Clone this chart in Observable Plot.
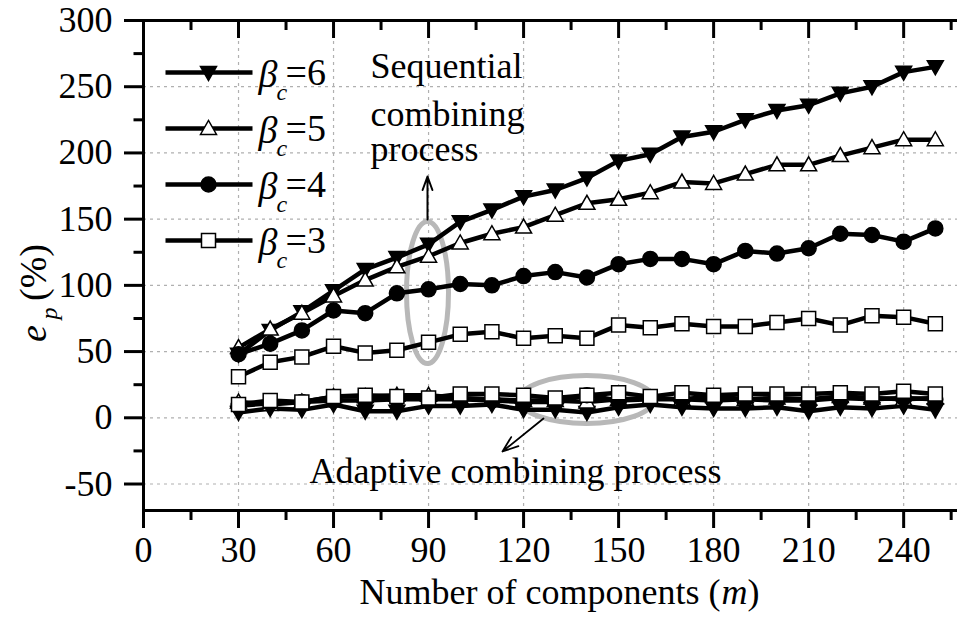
<!DOCTYPE html>
<html><head><meta charset="utf-8">
<script src="https://cdn.jsdelivr.net/npm/d3@7"></script>
<script src="https://cdn.jsdelivr.net/npm/@observablehq/plot@0.6"></script>
<style>html,body{margin:0;padding:0;background:#fff;overflow:hidden}</style>
</head><body><div id="chart"></div>
<script>
// ---- data ----
const mValues = [30,40,50,60,70,80,90,100,110,120,130,140,150,160,170,180,190,200,210,220,230,240,250];
const seqBeta6 = [48,66,80,96,112,121,131,148,157,167,172,181,194,199,212,216,225,232,236,245,250,261,265];
const seqBeta5 = [53,67,79,92,104,114,122,132,139,144,153,162,165,170,178,177,184,191,191,198,204,210,210];
const seqBeta4 = [48,56,66,81,79,94,97,101,100,107,110,106,116,120,120,116,126,124,128,139,138,133,143];
const seqBeta3 = [31,42,46,54,49,51,57,63,65,60,62,60,70,68,71,69,69,72,75,70,77,76,71];
const adaBeta6 = [4,7,6,10,5,5,9,9,10,6,6,4,8,10,8,7,7,8,5,8,7,9,6];
const adaBeta5 = [12,10,12,16,16,17,17,15,14,13,13,12,14,15,14,16,14,15,14,16,15,14,15];
const adaBeta4 = [9,11,12,13,13,14,14,14,13,12,12,17,13,14,14,13,14,13,13,15,14,15,14];
const adaBeta3 = [10,13,12,16,17,16,15,18,18,17,15,17,19,16,19,17,18,18,18,19,18,20,18];
const betaLevels = ["6","5","4","3"];
const xTickValues = [0,30,60,90,120,150,180,210,240];
const xMinorTicks = [15,45,75,105,135,165,195,225,255];
const yTickValues = [-50,0,50,100,150,200,250,300];
const yMinorTicks = [-25,25,75,125,175,225,275];
const annotationLines = ["Sequential","combining","process"];
const adaptiveLabel = "Adaptive combining process";
const xTitleMain = "Number of components (";
const xTitleVar = "m";
const yTitleVar = "e";
const yTitleSub = "p";
const yTitleUnit = "(%)";

// ---- layout ----
const W = 957, H = 617, ML = 143, MR = 0, MT = 20, MB = 107;
const XMAX = 257, YMIN = -70, YMAX = 300;
const X = px => (px - ML) / (W - ML - MR) * XMAX;
const Y = py => YMAX - (py - MT) / (H - MT - MB) * (YMAX - YMIN);
const FONT = "'Liberation Serif', 'Times New Roman', serif";
const annotationCenters = [66, 114, 149];

const seqSeries = {"6": seqBeta6, "5": seqBeta5, "4": seqBeta4, "3": seqBeta3};
const adaSeries = {"6": adaBeta6, "5": adaBeta5, "4": adaBeta4, "3": adaBeta3};
const rows = [];
for (const b of betaLevels) {
  seqSeries[b].forEach((v, i) => rows.push({m: mValues[i], v, beta: b, key: "seq" + b}));
  adaSeries[b].forEach((v, i) => rows.push({m: mValues[i], v, beta: b, key: "ada" + b}));
}

// ---- symbols ----
const invTri = {draw(c){ c.moveTo(-8,-6); c.lineTo(8,-6); c.lineTo(0,8); c.closePath(); }};
const upTri  = {draw(c){ c.moveTo(-8,6); c.lineTo(8,6); c.lineTo(0,-8); c.closePath(); }};
const square = {draw(c){ c.rect(-7,-7,14,14); }};
const circle = {draw(c){ c.moveTo(7.5,0); c.arc(0,0,7.5,0,2*Math.PI); }};
const ellipse = (rx, ry) => { const k = 0.5523; return {draw(c){
  c.moveTo(rx,0);
  c.bezierCurveTo(rx, ry*k, rx*k, ry, 0, ry);
  c.bezierCurveTo(-rx*k, ry, -rx, ry*k, -rx, 0);
  c.bezierCurveTo(-rx, -ry*k, -rx*k, -ry, 0, -ry);
  c.bezierCurveTo(rx*k, -ry, rx, -ry*k, rx, 0);
  c.closePath(); }}; };
const symStyle = {
  "6": {symbol: invTri, fill: "black"},
  "5": {symbol: upTri, fill: "white"},
  "4": {symbol: circle, fill: "black"},
  "3": {symbol: square, fill: "white"}
};

const T = {fontFamily: FONT, fill: "black"};
const marks = [];
// grid
marks.push(Plot.gridX({ticks: xTickValues.filter(v => v > 0), stroke: "#b0b0b0", strokeOpacity: 1, strokeWidth: 1.2, strokeDasharray: "3,4"}));
marks.push(Plot.gridY({ticks: yTickValues.filter(v => v < 300), stroke: "#b0b0b0", strokeOpacity: 1, strokeWidth: 1.2, strokeDasharray: "3,4"}));
// annotation ellipses
marks.push(Plot.dot([0], {x: X(427), y: Y(292), symbol: ellipse(21, 71), fill: "none", stroke: "#b8b8b8", strokeWidth: 5}));
marks.push(Plot.dot([0], {x: X(586), y: Y(399), symbol: ellipse(67, 24), fill: "none", stroke: "#b8b8b8", strokeWidth: 5}));
// series lines
marks.push(Plot.line(rows, {x: "m", y: "v", z: "key", stroke: "black", strokeWidth: 4.5}));
// markers
for (const b of betaLevels) {
  marks.push(Plot.dot(rows.filter(d => d.beta === b), {x: "m", y: "v", symbol: symStyle[b].symbol, fill: symStyle[b].fill, stroke: "black", strokeWidth: 1.5}));
}
// frame lines
marks.push(Plot.ruleX([0], {stroke: "black", strokeWidth: 3}));
marks.push(Plot.ruleY([YMIN], {stroke: "black", strokeWidth: 3}));
marks.push(Plot.ruleY([YMAX], {stroke: "black", strokeWidth: 3}));
// axes
marks.push(Plot.axisX({ticks: xTickValues, anchor: "bottom", tickSize: 18, tickPadding: 8, strokeWidth: 3, fontSize: 36, label: null, ...T}));
marks.push(Plot.axisX({ticks: xMinorTicks, anchor: "bottom", tickSize: 10, strokeWidth: 3, tickFormat: () => "", label: null}));
marks.push(Plot.axisX({ticks: xTickValues, anchor: "top", tickSize: -17, strokeWidth: 3, tickFormat: () => "", label: null}));
marks.push(Plot.axisX({ticks: xMinorTicks, anchor: "top", tickSize: -9, strokeWidth: 3, tickFormat: () => "", label: null}));
marks.push(Plot.axisY({ticks: yTickValues, anchor: "left", tickSize: 19, tickPadding: 12, strokeWidth: 3, fontSize: 36, label: null, tickFormat: d => String(d), ...T}));
marks.push(Plot.axisY({ticks: yMinorTicks, anchor: "left", tickSize: 9.5, strokeWidth: 3, tickFormat: () => "", label: null}));
// axis titles
marks.push(Plot.text([xTitleMain], {x: X(720), y: Y(592), text: d => d, textAnchor: "end", fontSize: 36, ...T}));
marks.push(Plot.text([xTitleVar], {x: X(721), y: Y(592), text: d => d, textAnchor: "start", fontSize: 36, fontStyle: "italic", ...T}));
marks.push(Plot.text([")"], {x: X(747), y: Y(592), text: d => d, textAnchor: "start", fontSize: 36, ...T}));
marks.push(Plot.text([yTitleVar], {x: X(33), y: Y(333), text: d => d, rotate: -90, fontSize: 38, fontStyle: "italic", ...T}));
marks.push(Plot.text([yTitleSub], {x: X(49), y: Y(313), text: d => d, rotate: -90, fontSize: 24, fontStyle: "italic", ...T}));
marks.push(Plot.text([yTitleUnit], {x: X(33), y: Y(272), text: d => d, rotate: -90, fontSize: 38, ...T}));
// legend
betaLevels.forEach((b, i) => {
  const py = 72 + i * 56;
  marks.push(Plot.link([b], {x1: X(165), x2: X(252), y1: Y(py), y2: Y(py), stroke: "black", strokeWidth: 4.5}));
  marks.push(Plot.dot([b], {x: X(208), y: Y(py), symbol: symStyle[b].symbol, fill: symStyle[b].fill, stroke: "black", strokeWidth: 1.5}));
  marks.push(Plot.text([b], {x: X(258), y: Y(py + 2), text: () => "\u03b2", textAnchor: "start", fontSize: 38, fontStyle: "italic", ...T}));
  marks.push(Plot.text([b], {x: X(276), y: Y(py + 20), text: () => "c", textAnchor: "start", fontSize: 24, fontStyle: "italic", ...T}));
  marks.push(Plot.text([b], {x: X(285), y: Y(py), text: d => "=" + d, textAnchor: "start", fontSize: 38, ...T}));
});
// annotations
marks.push(Plot.text(annotationLines, {x: X(370), y: (d, i) => Y(annotationCenters[i]), text: d => d, textAnchor: "start", fontSize: 36, ...T}));
marks.push(Plot.arrow([0], {x1: X(427), y1: Y(219), x2: X(427), y2: Y(176), stroke: "black", strokeWidth: 2, headLength: 14, headAngle: 40}));
marks.push(Plot.arrow([0], {x1: X(543), y1: Y(418), x2: X(502), y2: Y(451), stroke: "black", strokeWidth: 1.8, headLength: 14, headAngle: 40}));
marks.push(Plot.text([adaptiveLabel], {x: X(515), y: Y(471), text: d => d, fontSize: 36, ...T}));

const chart = Plot.plot({
  width: W, height: H,
  marginLeft: ML, marginRight: MR, marginTop: MT, marginBottom: MB,
  x: {domain: [0, XMAX]},
  y: {domain: [YMIN, YMAX]},
  style: {fontFamily: FONT, background: "white", color: "black", overflow: "visible"},
  marks
});
document.getElementById("chart").appendChild(chart);
</script>
</body></html>
